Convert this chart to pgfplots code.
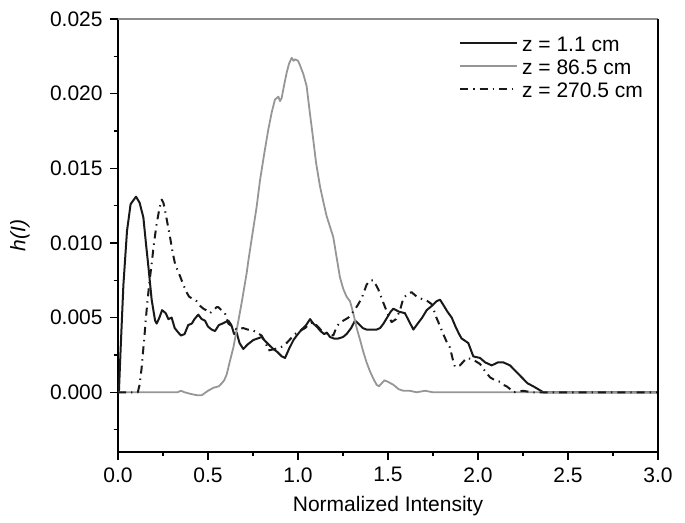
\documentclass[border=0pt]{standalone}
\usepackage{fontspec}
\setmainfont{Liberation Sans}
\usepackage{pgfplots}
\pgfplotsset{compat=1.18}
\definecolor{grayline}{RGB}{150,150,150}
\definecolor{framegray}{RGB}{140,140,140}
\definecolor{blackline}{RGB}{25,25,25}

\begin{document}
\fontsize{10.5}{12.6}\selectfont
\begin{tikzpicture}
\useasboundingbox (0,0) rectangle (342.5pt,261.5pt);
\begin{axis}[
  at={(59pt,35.5pt)}, anchor=south west,
  scale only axis, width=270pt, height=216.5pt,
  xmin=0, xmax=3, ymin=-0.004, ymax=0.025,
  axis x line*=bottom, axis y line*=left,
  axis line style={-, line width=0.6pt, black},
  clip=false,
  xtick={0,0.5,1,1.5,2,2.5,3},
  ytick={0,0.005,0.01,0.015,0.02,0.025},
  minor xtick={0.25,0.75,1.25,1.75,2.25,2.75},
  minor ytick={-0.0025,0.0025,0.0075,0.0125,0.0175,0.0225},
  tick align=outside, major tick length=4pt, minor tick length=2.2pt,
  tick style={black, line width=0.6pt},
  scaled y ticks=false,
  xticklabel style={/pgf/number format/.cd, fixed, fixed zerofill, precision=1},
  yticklabel style={/pgf/number format/.cd, fixed, fixed zerofill, precision=3},
  /pgf/number format/assume math mode=true,
  tick label style={font=\fontsize{10.5}{12.6}\selectfont},
  label style={font=\fontsize{10.5}{12.6}\selectfont},
  xlabel={Normalized Intensity}, ylabel={\itshape h(I)},
  ylabel shift=3pt,
  legend style={draw=none, fill=none, at={(0.631,0.972)}, anchor=north west,
    inner sep=0pt, row sep=0pt, font=\fontsize{10.5}{12.6}\selectfont,
    nodes={text height=8pt, text depth=0pt, inner ysep=1.75pt},
    cells={anchor=west}},
  legend image code/.code={\draw[#1] (0pt,0pt) -- (26.5pt,0pt); \path (0pt,0pt) -- (28.5pt,0pt);},
  every axis plot/.append style={line join=round},
]
% z = 1.1 cm
\addplot[blackline, line width=1pt] coordinates {
(0,0)(0.005,0)(0.015,0.0030)(0.03,0.0072)(0.05,0.0108)(0.07,0.0126)(0.1,0.0131)
(0.12,0.0127)(0.141,0.0117)(0.155,0.0100)(0.169,0.0084)(0.187,0.0062)(0.206,0.0048)
(0.215,0.0046)(0.23,0.0050)(0.245,0.0055)(0.265,0.0053)(0.28,0.0049)(0.298,0.0050)
(0.315,0.0043)(0.335,0.0040)(0.35,0.0038)(0.37,0.0039)(0.39,0.0045)(0.41,0.0046)
(0.425,0.0049)(0.446,0.0052)(0.465,0.0049)(0.483,0.0048)(0.5,0.0044)(0.52,0.0042)
(0.539,0.0041)(0.56,0.0045)(0.58,0.0046)(0.613,0.0048)(0.63,0.0045)(0.645,0.0039)
(0.659,0.0040)(0.675,0.0033)(0.696,0.0029)(0.72,0.0032)(0.752,0.0035)(0.775,0.0036)
(0.798,0.0037)(0.82,0.0034)(0.845,0.0031)(0.863,0.0029)(0.885,0.0027)(0.91,0.0024)
(0.928,0.0023)(0.95,0.0029)(0.975,0.0035)(0.993,0.0038)(1.02,0.0042)(1.045,0.0045)
(1.067,0.0049)(1.085,0.0046)(1.104,0.0044)(1.125,0.0041)(1.145,0.0039)(1.16,0.0040)
(1.178,0.0037)(1.2,0.0036)(1.224,0.0036)(1.25,0.0037)(1.27,0.0039)(1.295,0.0043)
(1.317,0.0048)(1.335,0.0046)(1.36,0.0043)(1.381,0.0042)(1.409,0.0042)(1.437,0.0042)
(1.456,0.0043)(1.475,0.0046)(1.495,0.0050)(1.515,0.0054)(1.53,0.0056)(1.56,0.0054)
(1.594,0.0053)(1.615,0.0048)(1.641,0.0042)(1.665,0.0046)(1.69,0.0050)(1.715,0.0055)
(1.745,0.0058)(1.77,0.0061)(1.789,0.0062)(1.81,0.0058)(1.83,0.0054)(1.854,0.0050)
(1.875,0.0044)(1.895,0.0039)(1.909,0.0036)(1.946,0.0033)(1.974,0.0024)(2.011,0.0023)
(2.04,0.0020)(2.076,0.0018)(2.11,0.0020)(2.141,0.0020)(2.178,0.0018)(2.21,0.0014)
(2.243,0.0010)(2.275,0.0006)(2.307,0.0004)(2.335,0.0002)(2.363,0.0)(2.5,0)(3.0,0)
};
\addlegendentry{z = 1.1 cm}
% z = 86.5 cm
\addplot[grayline, line width=0.9pt] coordinates {
(0,0)(0.33,0)(0.35,0.0001)(0.37,0)(0.4,-0.0001)(0.44,-0.0002)(0.465,-0.0002)
(0.5,0.0001)(0.53,0.0003)(0.56,0.0004)(0.576,0.0006)(0.59,0.0008)(0.604,0.0012)
(0.622,0.0021)(0.641,0.0030)(0.669,0.0048)(0.69,0.0062)(0.715,0.0080)(0.724,0.0088)
(0.752,0.0110)(0.77,0.0124)(0.789,0.0142)(0.81,0.0158)(0.835,0.0176)(0.855,0.0188)
(0.872,0.0196)(0.891,0.0198)(0.9,0.0195)(0.909,0.0197)(0.925,0.0207)(0.937,0.0214)
(0.95,0.0220)(0.965,0.0224)(0.975,0.0222)(0.983,0.0223)(1.0,0.0222)(1.011,0.0219)
(1.03,0.0213)(1.048,0.0205)(1.065,0.0188)(1.085,0.0169)(1.1,0.0154)(1.122,0.0138)
(1.14,0.0128)(1.159,0.0118)(1.18,0.0110)(1.196,0.0104)(1.215,0.0090)(1.233,0.0077)
(1.252,0.0069)(1.27,0.0064)(1.289,0.0061)(1.307,0.0053)(1.326,0.0043)(1.345,0.0035)
(1.363,0.0027)(1.381,0.0020)(1.40,0.0014)(1.419,0.0009)(1.437,0.0005)(1.45,0.0004)
(1.465,0.0006)(1.48,0.0008)(1.5,0.0007)(1.53,0.0005)(1.56,0.0002)(1.585,0.0001)
(1.62,0.0001)(1.66,0.0000)(1.706,0.0001)(1.75,0)(1.85,0)(3.0,0)
};
\addlegendentry{z = 86.5 cm}
% z = 270.5 cm
\addplot[blackline, line width=1pt, dash pattern=on 4pt off 2.5pt on 0.7pt off 2.5pt] coordinates {
(0,0)(0.11,0)(0.12,0.0005)(0.131,0.0016)(0.145,0.0035)(0.159,0.0055)(0.173,0.0072)
(0.187,0.0086)(0.2,0.0100)(0.215,0.0113)(0.23,0.0123)(0.243,0.0129)(0.252,0.0127)
(0.261,0.0122)(0.275,0.0113)(0.289,0.0104)(0.303,0.0094)(0.317,0.0086)(0.33,0.0082)
(0.344,0.0078)(0.363,0.0072)(0.381,0.0067)(0.395,0.0064)(0.409,0.0063)(0.437,0.0061)
(0.455,0.0058)(0.474,0.0056)(0.49,0.0055)(0.511,0.0053)(0.53,0.0055)(0.548,0.0057)
(0.557,0.0057)(0.575,0.0055)(0.594,0.0053)(0.613,0.0046)(0.635,0.0044)(0.659,0.0042)
(0.696,0.0043)(0.72,0.0042)(0.743,0.0042)(0.77,0.0040)(0.798,0.0038)(0.82,0.0033)
(0.835,0.0028)(0.872,0.0029)(0.9,0.0030)(0.919,0.0031)(0.937,0.0033)(0.96,0.0036)
(0.983,0.0039)(1.01,0.0041)(1.039,0.0043)(1.065,0.0046)(1.085,0.0047)(1.11,0.0044)
(1.141,0.0040)(1.17,0.0039)(1.196,0.0038)(1.215,0.0044)(1.235,0.0047)(1.252,0.0048)
(1.28,0.0050)(1.307,0.0054)(1.33,0.0058)(1.354,0.0063)(1.381,0.0072)(1.40,0.0075)
(1.419,0.0075)(1.446,0.0069)(1.474,0.0060)(1.50,0.0052)(1.52,0.0047)(1.545,0.0049)
(1.567,0.0055)(1.585,0.0063)(1.61,0.0066)(1.631,0.0067)(1.66,0.0064)(1.696,0.0062)
(1.72,0.0061)(1.743,0.0059)(1.769,0.0050)(1.79,0.0044)(1.807,0.0039)(1.825,0.0034)
(1.844,0.0030)(1.86,0.0022)(1.872,0.0017)(1.9,0.0018)(1.937,0.0023)(1.97,0.0022)
(2.011,0.0019)(2.04,0.0014)(2.067,0.0010)(2.095,0.0008)(2.122,0.0007)(2.14,0.0005)
(2.159,0.0004)(2.18,0.0002)(2.196,0)(2.25,0.0001)(2.3,0)(2.4,0)(3.0,0)
};
\addlegendentry{z = 270.5 cm}
\draw[framegray, line width=0.6pt] (rel axis cs:0,1) -- (rel axis cs:1,1);
\draw[black, line width=0.6pt] (rel axis cs:1,0) -- (rel axis cs:1,1);
\end{axis}
\end{tikzpicture}
\end{document}
